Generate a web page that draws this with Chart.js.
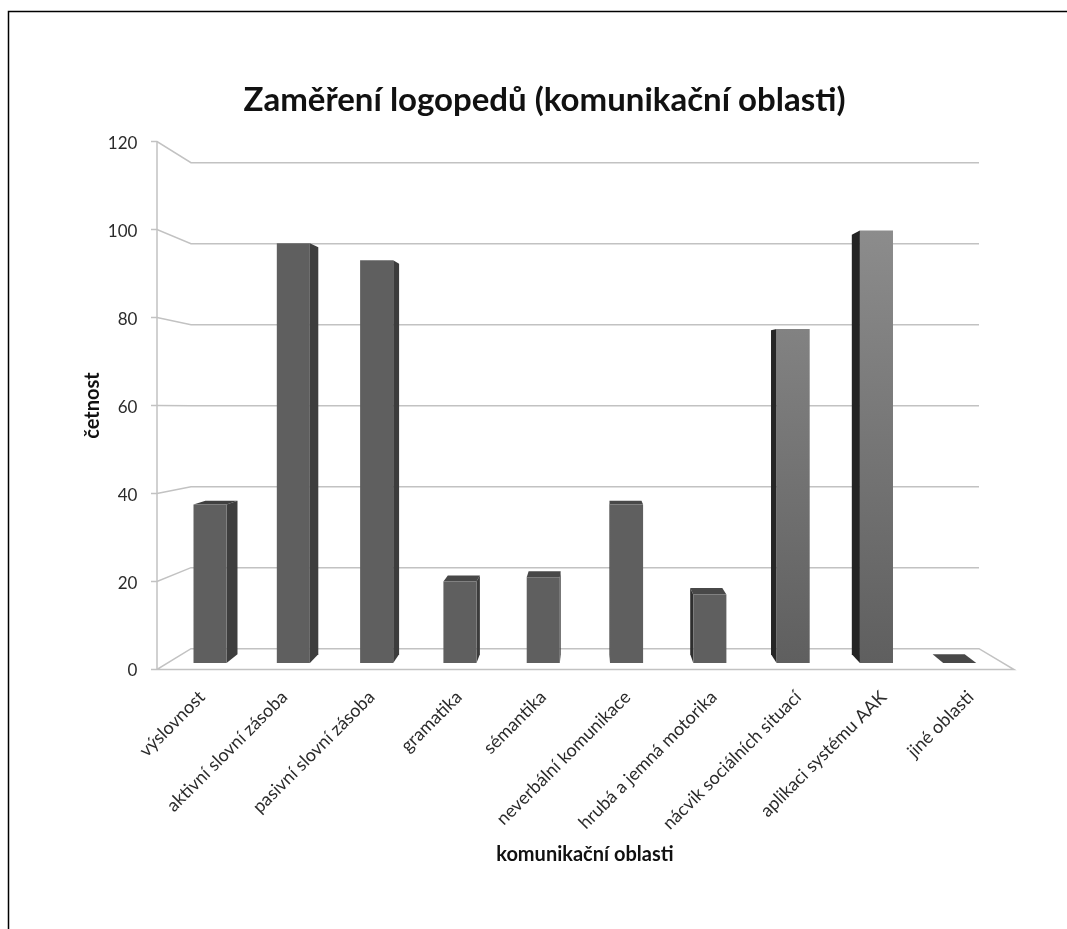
<!DOCTYPE html>
<html lang="cs">
<head>
<meta charset="utf-8">
<style>html,body{margin:0;padding:0;background:#fff;overflow:hidden}canvas{display:block;filter:blur(0.4px)}</style>
<script src="https://cdn.jsdelivr.net/npm/chart.js@4"></script>
</head>
<body>
<canvas id="c" width="1067" height="929"></canvas>
<script>
const categories = ['výslovnost','aktivní slovní zásoba','pasivní slovní zásoba','gramatika','sémantika','neverbální komunikace','hrubá a jemná motorika','nácvik sociálních situací','aplikaci systému AAK','jiné oblasti'];
const values = [37, 98, 94, 19, 20, 37, 16, 78, 101, 0];
const yTicks = [0, 20, 40, 60, 80, 100, 120];
const faceTop = ['#5f5f5f','#5f5f5f','#5f5f5f','#5f5f5f','#5f5f5f','#5f5f5f','#5f5f5f','#828282','#8c8c8c','#5f5f5f'];
const sideColors = ['#3e3e3e','#3e3e3e','#3c3c3c','#3c3c3c','#3c3c3c','#3c3c3c','#2e2e2e','#262626','#242424','#444444'];
const topColors = ['#404040','#404040','#404040','#484848','#484848','#484848','#484848','#404040','#404040','#484848'];

const FONT = 'Lato, Carlito, sans-serif';
const GRID = '#c2c2c2';
const AXIS_X = 157, BACK_L = 191, BACK_R = 979, FLOOR_R = 1014;
const VP_X = 590, VP_Y = 375, K = 0.03;
/* Perspective drift of the slanted category labels relative to their bars. */
const LABEL_DRIFT = [-2, -3, 1, 5, 6, 7, 10, 11, 13, 17];

const walls = {
  id: 'walls',
  beforeDraw(chart) {
    const ctx = chart.ctx;
    ctx.save();
    ctx.fillStyle = '#fff';
    ctx.fillRect(0, 0, chart.width, chart.height);
    ctx.strokeStyle = '#000';
    ctx.lineWidth = 1.5;
    ctx.beginPath();
    ctx.moveTo(8.5, chart.height);
    ctx.lineTo(8.5, 11.5);
    ctx.lineTo(chart.width, 11.5);
    ctx.stroke();
    ctx.restore();
  },
  beforeDatasetsDraw(chart) {
    const {ctx, scales: {y, yBack}} = chart;
    ctx.save();
    ctx.strokeStyle = GRID;
    ctx.lineWidth = 1.5;
    yTicks.forEach(v => {
      const f = y.getPixelForValue(v), b = yBack.getPixelForValue(v);
      ctx.beginPath();
      ctx.moveTo(AXIS_X - 6, f);
      ctx.lineTo(AXIS_X, f);
      ctx.lineTo(BACK_L, b);
      ctx.lineTo(BACK_R, b);
      if (v === 0) {
        ctx.lineTo(FLOOR_R, f);
        ctx.lineTo(AXIS_X, f);
      }
      ctx.stroke();
    });
    ctx.beginPath();
    ctx.moveTo(AXIS_X, y.getPixelForValue(120));
    ctx.lineTo(AXIS_X, y.getPixelForValue(0));
    ctx.stroke();

    chart.getDatasetMeta(0).data.forEach((bar, i) => {
      const L = bar.x - bar.width / 2, R = bar.x + bar.width / 2;
      const top = bar.y, base = bar.base;
      const edge = bar.x < VP_X - bar.width / 2 ? R : (bar.x > VP_X + bar.width / 2 ? L : null);
      const sy = t => (VP_Y - t) * K;
      const sx = x => (VP_X - x) * K;
      if (edge !== null && values[i] > 0) {
        ctx.fillStyle = sideColors[i];
        ctx.beginPath();
        ctx.moveTo(edge, top);
        ctx.lineTo(edge + sx(edge), top + sy(top));
        ctx.lineTo(edge + sx(edge), base + sy(base));
        ctx.lineTo(edge, base);
        ctx.closePath();
        ctx.fill();
      }
      if (sy(top) < 0) {
        ctx.fillStyle = topColors[i];
        ctx.beginPath();
        ctx.moveTo(L, top);
        ctx.lineTo(R, top);
        ctx.lineTo(R + sx(R), top + sy(top));
        ctx.lineTo(L + sx(L), top + sy(top));
        ctx.closePath();
        ctx.fill();
      }
    });
    ctx.restore();
  }
};

function faceFill(c) {
  const chart = c.chart;
  const area = chart.chartArea;
  if (!area || c.type !== 'data') return '#5f5f5f';
  const s = chart.scales.yBar;
  const g = chart.ctx.createLinearGradient(0, s.getPixelForValue(c.parsed.y), 0, s.getPixelForValue(0));
  g.addColorStop(0, faceTop[c.dataIndex]);
  g.addColorStop(1, '#5f5f5f');
  return g;
}

new Chart(document.getElementById('c'), {
  type: 'bar',
  data: {
    labels: categories,
    datasets: [{ data: values, yAxisID: 'yBar', backgroundColor: faceFill, borderWidth: 0, categoryPercentage: 1, barPercentage: 0.402 }]
  },
  plugins: [walls],
  options: {
    responsive: false,
    animation: false,
    events: [],
    layout: { padding: { left: 22, right: 0, top: 0, bottom: 0 } },
    plugins: {
      legend: { display: false },
      tooltip: { enabled: false },
      title: {
        display: true,
        text: 'Zaměření logopedů (komunikační oblasti)',
        color: '#111',
        font: { family: FONT, size: 33, weight: 'bold' },
        padding: { top: 81, bottom: 21 }
      }
    },
    scales: {
      x: {
        grid: { display: false, drawTicks: false },
        border: { display: false },
        ticks: { color: '#2b2b2b', font: { family: FONT, size: 18 }, minRotation: 45, maxRotation: 45, autoSkip: false, padding: 17, labelOffset: -6 },
        title: { display: true, text: 'komunikační oblasti', color: '#111', font: { family: FONT, size: 20, weight: 'bold' }, padding: { top: 0, bottom: 62 } },
        afterFit(s) {
          s.height = 259.5;
          if (!s._driftApplied) {
            const base = s.getPixelForTick;
            s.getPixelForTick = i => base.call(s, i) + (LABEL_DRIFT[i] || 0);
            s._driftApplied = true;
          }
        }
      },
      y: {
        position: 'left',
        min: 0, max: 120,
        grid: { display: false, drawTicks: false },
        border: { display: false },
        afterBuildTicks(s) { s.ticks = yTicks.map(value => ({ value })); },
        ticks: { color: '#2b2b2b', font: { family: FONT, size: 17 }, padding: 31, labelOffset: 1.5 },
        title: { display: true, text: 'četnost', color: '#111', font: { family: FONT, size: 20, weight: 'bold' }, padding: { top: 59, bottom: 0 } },
        afterFit(s) { s.width = 146.4; }
      },
      yBar: { display: false, min: -1.519, max: 121.73 },
      yBack: {
        position: 'right',
        min: -5.15, max: 125.2,
        grid: { display: false, drawTicks: false },
        border: { display: false },
        ticks: { display: false },
        afterFit(s) { s.width = 65.6; }
      }
    }
  }
});
</script>
</body>
</html>
